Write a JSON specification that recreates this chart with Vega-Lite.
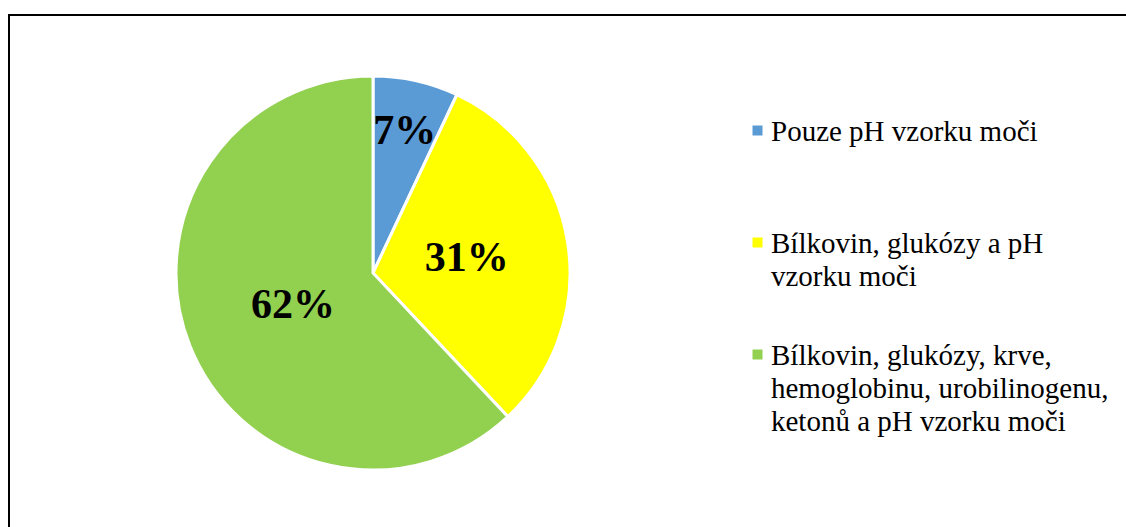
{
  "$schema": "https://vega.github.io/schema/vega-lite/v6.json",
  "autosize": "none",
  "width": 1200,
  "height": 600,
  "padding": {"left": 9, "top": 15, "right": 0, "bottom": 0},
  "background": "white",
  "config": {
    "view": {"stroke": null},
    "style": {"guide-label": {"lineHeight": 33, "dy": -13}}
  },
  "datasets": {
    "podily": [
      {"kategorie": "Pouze pH vzorku moči", "podil": 0.07, "poradi": 1},
      {"kategorie": "Bílkovin, glukózy a pH vzorku moči", "podil": 0.31, "poradi": 2},
      {"kategorie": "Bílkovin, glukózy, krve, hemoglobinu, urobilinogenu, ketonů a pH vzorku moči", "podil": 0.62, "poradi": 3}
    ],
    "ramecek": [{"ramecek": 1}]
  },
  "layer": [
    {
      "data": {"name": "ramecek"},
      "mark": {"type": "rect", "fill": null, "stroke": "#000000", "strokeWidth": 2},
      "encoding": {
        "x": {"value": 0},
        "x2": {"value": "width"},
        "y": {"value": 0},
        "y2": {"value": "height"}
      }
    },
    {
      "data": {"name": "podily"},
      "mark": {"type": "arc", "outerRadius": 197, "stroke": "#FFFFFF", "strokeWidth": 3, "x": 364, "y": 258},
      "encoding": {
        "theta": {"field": "podil", "type": "quantitative", "stack": true},
        "order": {"field": "poradi", "type": "quantitative"},
        "color": {
          "field": "kategorie",
          "type": "nominal",
          "scale": {
            "domain": [
              "Pouze pH vzorku moči",
              "Bílkovin, glukózy a pH vzorku moči",
              "Bílkovin, glukózy, krve, hemoglobinu, urobilinogenu, ketonů a pH vzorku moči"
            ],
            "range": ["#5B9BD5", "#FFFF00", "#92D050"]
          },
          "legend": {
            "orient": "none",
            "legendX": 734,
            "legendY": 101,
            "title": null,
            "symbolType": "square",
            "symbolSize": 100,
            "symbolStrokeWidth": 0,
            "labelFont": "Liberation Serif",
            "labelFontSize": 29,
            "labelColor": "#000000",
            "labelLimit": 500,
            "labelOffset": -1,
            "labelBaseline": "top",
            "rowPadding": 48,
            "labelExpr": "indexof(datum.label, 'krve') > 0 ? ['Bílkovin, glukózy, krve,', 'hemoglobinu, urobilinogenu,', 'ketonů a pH vzorku moči'] : indexof(datum.label, 'glukózy a') > 0 ? ['Bílkovin, glukózy a pH', 'vzorku moči'] : [datum.label, ' ']"
          }
        }
      }
    },
    {
      "data": {"name": "podily"},
      "mark": {"type": "text", "font": "Liberation Serif", "fontWeight": "bold", "fontSize": 42, "fill": "#000000", "x": 364, "y": 258},
      "encoding": {
        "theta": {"field": "podil", "type": "quantitative", "stack": true},
        "order": {"field": "poradi", "type": "quantitative"},
        "text": {"field": "podil", "type": "quantitative", "format": ".0%"},
        "radius": {"field": "podil", "type": "quantitative", "scale": {"type": "linear", "zero": false, "domain": [0.07, 0.31, 0.62], "range": [146, 95, 86]}},
        "color": {"value": "#000000"}
      }
    }
  ]
}
